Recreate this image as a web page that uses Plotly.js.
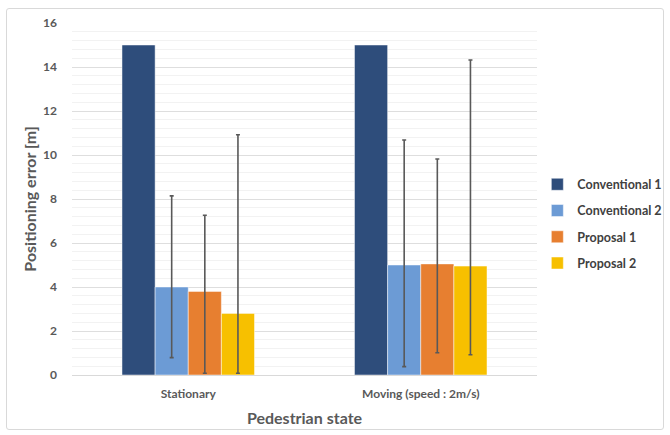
<!DOCTYPE html>
<html><head><meta charset="utf-8">
<script src="https://cdn.plot.ly/plotly-3.0.1.min.js"></script>
<style>
body{margin:0;padding:0;background:#fff;}
#frame{position:absolute;left:6px;top:8px;width:656px;height:420px;border:1px solid #d9d9d9;border-radius:3px;pointer-events:none;}
#chart{width:670px;height:435px;}
</style></head>
<body>
<div id="chart"></div>
<div id="frame"></div>
<script>
const categories = ["Stationary", "Moving (speed : 2m/s)"];
const seriesNames = ["Conventional 1", "Conventional 2", "Proposal 1", "Proposal 2"];
const conv1 = [15.0, 15.0];
const conv2 = [4.0, 5.0];
const prop1 = [3.8, 5.05];
const prop2 = [2.8, 4.95];
// error bar upper / lower bounds
const conv2Upper = [8.14, 10.68];
const conv2Lower = [0.79, 0.38];
const prop1Upper = [7.26, 9.82];
const prop1Lower = [0.08, 1.01];
const prop2Upper = [10.92, 14.32];
const prop2Lower = [0.08, 0.92];
const colors = ["#2E4D7B", "#6C9BD5", "#E77F30", "#F7C000"];

function errs(vals, up, lo) {
  if (!up) return {visible: false};
  return {
    type: 'data', symmetric: false,
    array: vals.map((v, i) => up[i] - v),
    arrayminus: vals.map((v, i) => v - lo[i]),
    color: '#595959', thickness: 1.6, width: 2
  };
}
const vals = [conv1, conv2, prop1, prop2];
const ups = [null, conv2Upper, prop1Upper, prop2Upper];
const los = [null, conv2Lower, prop1Lower, prop2Lower];
const data = vals.map((v, k) => ({
  type: 'bar', name: seriesNames[k], x: categories, y: v,
  legendgroup: 'g' + k,
  marker: {color: colors[k], line: {color: 'rgba(255,255,255,0.6)', width: 0.8}},
  error_y: errs(v, ups[k], los[k]),
  hoverinfo: 'none'
}));
const layout = {
  width: 670, height: 435,
  margin: {l: 72, r: 133, t: 23, b: 60},
  paper_bgcolor: '#fff', plot_bgcolor: '#fff',
  font: {family: 'Lato, "Open Sans", sans-serif', color: '#595959'},
  barmode: 'group', bargap: 0.43, bargroupgap: 0,
  showlegend: true,
  legend: {xref: 'container', yref: 'container', x: 0.802, y: 0.61, xanchor: 'left', yanchor: 'top',
    font: {size: 12.5, color: '#404040', family: 'Lato, sans-serif', weight: 'bold'},
    itemwidth: 30, tracegroupgap: 7, traceorder: 'grouped'},
  xaxis: {
    showgrid: false, showline: true, linecolor: '#d9d9d9', linewidth: 1,
    ticks: '', tickfont: {size: 12, weight: 'bold', color: '#595959'},
    ticklabelstandoff: 8,
    title: {text: 'Pedestrian state', font: {size: 16, weight: 'bold', color: '#595959'}, standoff: 12}
  },
  yaxis: {
    range: [0, 16], dtick: 2, showgrid: true, gridcolor: '#dedede', gridwidth: 1,
    zeroline: false, ticks: '', ticklen: 0,
    minor: {dtick: 0.4, showgrid: true, gridcolor: '#f2f2f2', gridwidth: 1},
    tickfont: {size: 12, weight: 'bold', color: '#595959'},
    ticklabelstandoff: 14,
    title: {text: 'Positioning error [m]', font: {size: 16, weight: 'bold', color: '#595959'}, standoff: 2}
  }
};
Plotly.newPlot('chart', data, layout, {displayModeBar: false, staticPlot: true});
</script>
</body></html>
